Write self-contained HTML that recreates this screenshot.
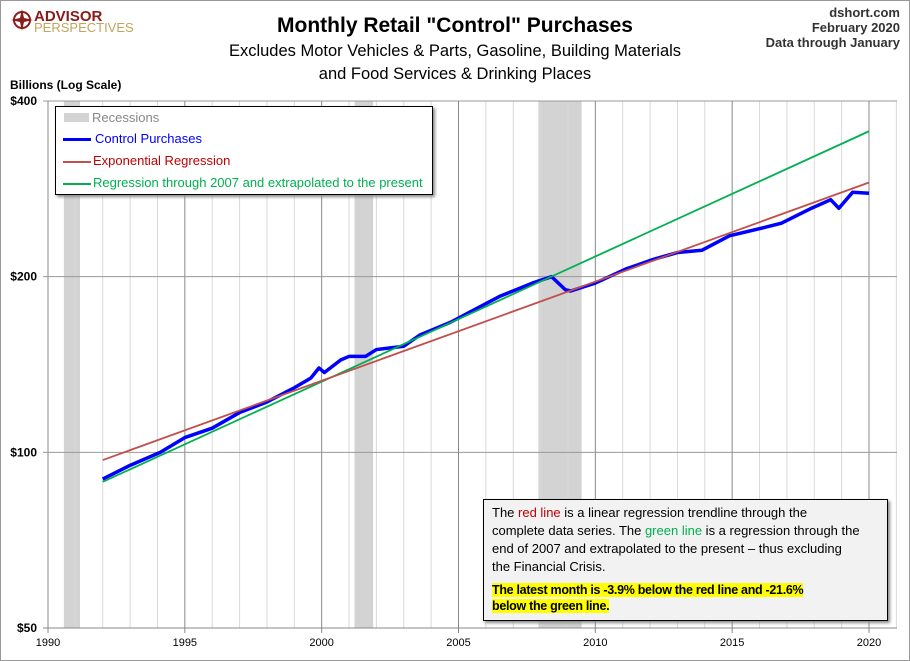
<!DOCTYPE html>
<html><head><meta charset="utf-8"><style>
body{margin:0;background:#fff;font-family:"Liberation Sans",sans-serif}
#wrap{position:relative;width:910px;height:661px;overflow:hidden}
svg text{font-family:"Liberation Sans",sans-serif}
</style></head><body>
<div id="wrap">
<svg id="chart" width="910" height="661">
<rect x="0.5" y="0.5" width="909" height="660" fill="#fff" stroke="#999"/>
<g>
<circle cx="22" cy="20" r="8" fill="none" stroke="#8b1a1a" stroke-width="2"/>
<path d="M22 9 L24 18 L33 20 L24 22 L22 31 L20 22 L11 20 L20 18 Z" fill="#8b1a1a"/>
<text x="34" y="21" font-size="15" font-weight="bold" fill="#8b1a1a">ADVISOR</text>
<text x="34" y="32" font-size="13" fill="#c4a45a">PERSPECTIVES</text>
</g>
<text x="455" y="32" text-anchor="middle" font-size="21" font-weight="bold" fill="#000">Monthly Retail "Control" Purchases</text>
<text x="455" y="56" text-anchor="middle" font-size="16.5" fill="#000">Excludes Motor Vehicles &amp; Parts, Gasoline, Building Materials</text>
<text x="455" y="79" text-anchor="middle" font-size="16.5" fill="#000">and Food Services &amp; Drinking Places</text>
<text x="900" y="17" text-anchor="end" font-size="13" font-weight="bold" fill="#333">dshort.com</text>
<text x="900" y="32" text-anchor="end" font-size="13" font-weight="bold" fill="#333">February 2020</text>
<text x="900" y="47" text-anchor="end" font-size="13" font-weight="bold" fill="#333">Data through January</text>
<text x="10" y="89" font-size="12" font-weight="bold" fill="#000">Billions (Log Scale)</text>
<g id="plot"></g>
</svg>
<div style="position:absolute;left:55px;top:106px;width:376px;height:87px;border:1px solid #000;background:#fff;box-shadow:2px 2px 3px #888;font-size:13px;">
 <div style="position:absolute;left:8px;top:3px;color:#888"><span style="display:inline-block;width:25px;height:9px;background:#d3d3d3;margin-right:3px"></span>Recessions</div>
 <div style="position:absolute;left:7px;top:24px;color:#0000ff"><span style="display:inline-block;width:28px;height:3px;background:#0000ff;vertical-align:middle;margin-right:4px"></span>Control Purchases</div>
 <div style="position:absolute;left:7px;top:46px;color:#c00000"><span style="display:inline-block;width:28px;height:2px;background:#c0504d;vertical-align:middle;margin-right:2px"></span>Exponential Regression</div>
 <div style="position:absolute;left:7px;top:68px;color:#00b050"><span style="display:inline-block;width:28px;height:2px;background:#00b050;vertical-align:middle;margin-right:2px"></span>Regression through 2007 and extrapolated to the present</div>
</div>
<div style="position:absolute;left:483px;top:499px;width:391px;height:116px;border:1px solid #000;background:#f2f2f2;box-shadow:2px 2px 3px #888;font-size:13px;line-height:18px;padding:2px 4px 2px 8px;color:#000;font-family:'Liberation Sans',sans-serif;white-space:nowrap">
<div style="margin-top:2px">The <span style="color:#c00000">red line</span> is a linear regression trendline through the<br>complete data series. The <span style="color:#00b050">green line</span> is a regression through the<br>end of 2007 and extrapolated to the present – thus excluding<br>the Financial Crisis.</div>
<div style="margin-top:6px;font-weight:bold;line-height:16px;font-size:12.5px;letter-spacing:-0.3px"><span style="background:#ffff00">The latest month is -3.9% below the red line and -21.6%</span><br><span style="background:#ffff00">below the green line.</span></div>
</div>
</div>
<script>
const recessionStarts=[1990.58,2001.2,2007.92];
const recessionEnds=[1991.17,2001.88,2009.5];
const yTickValues=[50,100,200,400];
const yTickLabels=["$50","$100","$200","$400"];
const xTickYears=[1990,1995,2000,2005,2010,2015,2020];
const controlYears=[1992,1993,1994.1,1995,1996,1997,1998,1999,1999.6,1999.9,2000.1,2000.7,2001,2001.6,2002,2003,2003.6,2004.7,2006.5,2007.7,2008.4,2008.9,2009.1,2010,2011.1,2012.1,2013,2013.9,2014.9,2016.2,2016.8,2017.9,2018.6,2018.9,2019.4,2020];
const controlValues=[90,95,100,106,110,117,122,129,134,139.5,137,144,146,146,150,152,159,167,185,195,200,190,189,195,206,214,220,222,235,243,247,262,271,262,279,278];
const expRegYears=[1992,2020];
const expRegValues=[97,290];
const greenRegYears=[1992,2020];
const greenRegValues=[89,355];

const NS="http://www.w3.org/2000/svg";
const L=48,R=897,T=101,B=628;
const x=yr=>L+(yr-1990)*(869-48)/30;
const y=v=>B-(B-T)*Math.log2(v/50)/3;
const g=document.getElementById('plot');
function mk(tag,attrs){const e=document.createElementNS(NS,tag);for(const k in attrs)e.setAttribute(k,attrs[k]);g.appendChild(e);return e;}
const bg=mk('rect',{x:L,y:T,width:R-L,height:B-T,fill:'#fff'});


for(let i=0;i<recessionStarts.length;i++){
 const r=mk('rect',{x:x(recessionStarts[i]),y:T,width:x(recessionEnds[i])-x(recessionStarts[i]),height:B-T,fill:'#d3d3d3'});
 
 
}
for(let yr=1990;yr<=2021;yr++){
 const major=yr%5===0;
 const l=mk('line',{x1:x(yr),x2:x(yr),y1:T,y2:B,stroke:major?'#888':'#d9d9d9','stroke-width':1});
 
 
}
yTickValues.forEach((v,i)=>{
 const l=mk('line',{x1:L-5,x2:R,y1:y(v),y2:y(v),stroke:i===0?'#888':'#999','stroke-width':1});
 
 
 const t=mk('text',{x:L-11,y:y(v)+4,'text-anchor':'end','font-size':12,'font-weight':'bold',fill:'#000'});
 t.textContent=yTickLabels[i];
 
 
});
xTickYears.forEach(yr=>{
 const tk=mk('line',{x1:x(yr),x2:x(yr),y1:B,y2:B+5,stroke:'#888'});
 
 
 const t=mk('text',{x:x(yr),y:B+18,'text-anchor':'middle','font-size':11,fill:'#000'});
 t.textContent=yr;
 
 
});
const ax=mk('line',{x1:L,x2:R,y1:B,y2:B,stroke:'#888'});


function line(xs,vs,color,w,name){
 const p=mk('polyline',{points:xs.map((yr,i)=>x(yr)+','+y(vs[i])).join(' '),fill:'none',stroke:color,'stroke-width':w,'stroke-linejoin':'round'});
 
 
}
line(controlYears,controlValues,'#0000ff',3.5,'control-purchases-line');
line(greenRegYears,greenRegValues,'#00b050',1.8,'regression-2007-line');
line(expRegYears,expRegValues,'#c0504d',1.8,'exponential-regression-line');
</script>
</body></html>
